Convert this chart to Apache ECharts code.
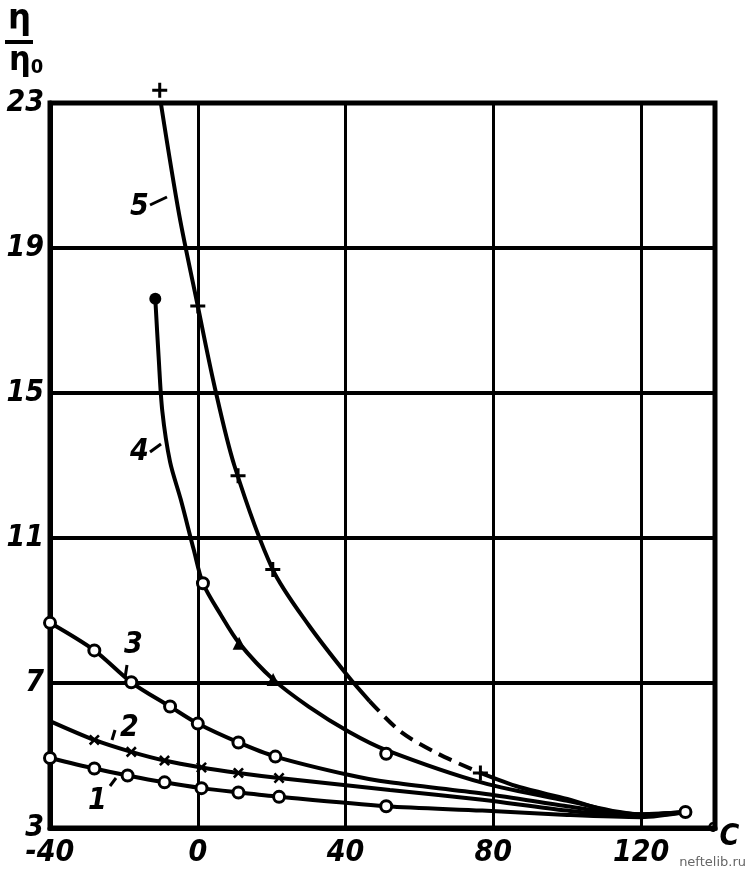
<!DOCTYPE html>
<html>
<head>
<meta charset="utf-8">
<script src="https://cdn.jsdelivr.net/npm/echarts@6/dist/echarts.min.js"></script>
<style>
html,body{margin:0;padding:0;background:#fff;}
#chart{width:748px;height:870px;}
</style>
</head>
<body>
<div id="chart"></div>
<script>
// ---- data (temperature °C, relative viscosity η/η0) ----
const xTickValues = [-40, 0, 40, 80, 120];
const yTickValues = [3, 7, 11, 15, 19, 23];

const curve1 = [[-40,4.93],[-28,4.64],[-19,4.45],[-9,4.26],[1,4.1],[11,3.98],[22,3.86],[51,3.6],[77,3.48],[100,3.36],[120,3.3],[132,3.44]];
const curve2 = [[-40,5.95],[-28,5.43],[-18,5.1],[-9,4.86],[1,4.67],[11,4.52],[22,4.38],[52,4.05],[77,3.78],[100,3.48],[120,3.33],[132,3.44]];
const curve3 = [[-40,8.66],[-28,7.9],[-18,7.02],[-7.5,6.35],[0,5.88],[11,5.36],[21,4.97],[41,4.46],[52,4.26],[77,3.95],[100,3.6],[120,3.35],[132,3.44]];
const curve4 = [[-11.5,17.6],[-10.6,16],[-9.6,14.5],[-7.5,13.1],[-4.6,12.06],[-1.1,10.68],[1.4,9.75],[6.3,8.87],[11.2,8.1],[20.4,7.1],[30,6.35],[41,5.65],[51,5.15],[77,4.25],[100,3.75],[120,3.38],[132,3.44]];
const curve5Solid = [[-10,23],[-5,19.9],[0,17.4],[4.5,15.2],[9.9,13.0],[20.3,10.13],[30,8.6],[40.8,7.17],[46.5,6.5]];
const curve5Dashed = [[46.5,6.5],[55,5.65],[65,5.05],[76.5,4.52]];
const curve5Tail = [[76.5,4.52],[87,4.13],[100,3.8],[110,3.5],[120,3.38],[132,3.44]];

const curve1Marks = [[-40,4.93],[-28,4.64],[-19,4.45],[-9,4.26],[1,4.1],[11,3.98],[22,3.86],[51,3.6],[132,3.44]];
const curve2Marks = [[-28,5.43],[-18,5.1],[-9,4.86],[1,4.67],[11,4.52],[22,4.38]];
const curve3Marks = [[-40,8.66],[-28,7.9],[-18,7.02],[-7.5,6.35],[0,5.88],[11,5.36],[21,4.97]];
const curve4StartMark = [[-11.5,17.6]];
const curve4CircleMarks = [[1.4,9.75],[51,5.05]];
const curve4TriangleMarks = [[11.2,8.1],[20.4,7.1]];
const curve5Marks = [[-10.3,23.35],[0,17.4],[10.9,12.72],[20.3,10.13],[76.5,4.52]];

const curveNames = ['1','2','3','4','5'];

// ---- styles ----
const FONT = "'Liberation Sans Narrow','DejaVu Sans Condensed','DejaVu Sans',sans-serif";
const plusPath = 'path://M4,0H6V4H10V6H6V10H4V6H0V4H4Z';

function lineSeries(data, type){
  return {type:'line', data:data, showSymbol:false, symbol:'none', smooth:0.3, clip:false,
    lineStyle:{color:'#000', width:4, type:type||'solid', opacity:1}, z:3, animation:false, silent:true};
}
function markSeries(data, symbol, size, opts){
  return Object.assign({type:'scatter', data:data, symbol:symbol, symbolSize:size, clip:false, z:5, animation:false, silent:true,
    itemStyle:{color:'#000', borderColor:'#000', borderWidth:0, opacity:1}}, opts||{});
}
const hollow = {itemStyle:{color:'#fff', borderColor:'#000', borderWidth:3, opacity:1}};

const chart = echarts.init(document.getElementById('chart'), null, {renderer:'canvas'});
chart.setOption({
  backgroundColor:'#fff',
  animation:false,
  grid:{left:50, right:33, top:103, bottom:42, show:true, borderColor:'#000', borderWidth:5, backgroundColor:'transparent'},
  xAxis:{type:'value', min:-40, max:140, interval:40,
    axisLine:{show:true, onZero:false, lineStyle:{color:'#000', width:5}},
    axisTick:{show:false},
    splitLine:{show:true, lineStyle:{color:'#000', width:3}},
    axisLabel:{color:'#000', fontSize:30, fontStyle:'italic', fontWeight:'bold', fontFamily:FONT, margin:10,
      formatter:function(v){return xTickValues.indexOf(v)>=0 ? String(v) : '';}}
  },
  yAxis:{type:'value', min:3, max:23, interval:4,
    axisLine:{show:true, onZero:false, lineStyle:{color:'#000', width:5}},
    axisTick:{show:false},
    splitLine:{show:true, lineStyle:{color:'#000', width:4}},
    axisLabel:{color:'#000', fontSize:30, fontStyle:'italic', fontWeight:'bold', fontFamily:FONT, margin:6,
      formatter:function(v){return yTickValues.indexOf(v)>=0 ? String(v) : '';}}
  },
  series:[
    lineSeries(curve1), lineSeries(curve2), lineSeries(curve3), lineSeries(curve4),
    lineSeries(curve5Solid), lineSeries(curve5Dashed,[14,8]), lineSeries(curve5Tail),
    markSeries(curve1Marks,'circle',11,hollow),
    markSeries(curve2Marks,plusPath,13,{symbolRotate:45}),
    markSeries(curve3Marks,'circle',11,hollow),
    markSeries(curve4StartMark,'circle',12),
    markSeries(curve4CircleMarks,'circle',11,hollow),
    markSeries(curve4TriangleMarks,'triangle',13),
    markSeries(curve5Marks,plusPath,15)
  ],
  graphic:[
    {type:'text', left:8, top:2, style:{text:'η', fontSize:36, fontWeight:'bold', fill:'#000', fontFamily:FONT}},
    {type:'rect', shape:{x:5, y:40, width:28, height:4}, style:{fill:'#000'}},
    {type:'text', left:9, top:44, style:{text:'η{s|0}', fontSize:34, fontWeight:'bold', fill:'#000', fontFamily:FONT,
      rich:{s:{fontSize:20, fontWeight:'bold', fill:'#000', fontFamily:FONT, padding:[14,0,0,0]}}}},
    {type:'text', left:706, top:822, style:{text:'°C', fontSize:30, fontStyle:'italic', fontWeight:'bold', fill:'#000', fontFamily:FONT}},
    {type:'text', left:130, top:192, style:{text:curveNames[4], fontSize:30, fontStyle:'italic', fontWeight:'bold', fill:'#000', fontFamily:FONT}},
    {type:'line', shape:{x1:150, y1:205, x2:167, y2:197}, style:{stroke:'#000', lineWidth:3}},
    {type:'text', left:130, top:437, style:{text:curveNames[3], fontSize:30, fontStyle:'italic', fontWeight:'bold', fill:'#000', fontFamily:FONT}},
    {type:'line', shape:{x1:150, y1:452, x2:161, y2:444}, style:{stroke:'#000', lineWidth:3}},
    {type:'text', left:124, top:630, style:{text:curveNames[2], fontSize:30, fontStyle:'italic', fontWeight:'bold', fill:'#000', fontFamily:FONT}},
    {type:'line', shape:{x1:127, y1:665, x2:125, y2:678}, style:{stroke:'#000', lineWidth:3}},
    {type:'text', left:120, top:713, style:{text:curveNames[1], fontSize:30, fontStyle:'italic', fontWeight:'bold', fill:'#000', fontFamily:FONT}},
    {type:'line', shape:{x1:115, y1:730, x2:112, y2:740}, style:{stroke:'#000', lineWidth:3}},
    {type:'text', left:88, top:786, style:{text:curveNames[0], fontSize:30, fontStyle:'italic', fontWeight:'bold', fill:'#000', fontFamily:FONT}},
    {type:'line', shape:{x1:110, y1:786, x2:116, y2:778}, style:{stroke:'#000', lineWidth:3}},
    {type:'text', right:2, bottom:1, style:{text:'neftelib.ru', fontSize:13, fill:'#666', fontFamily:'DejaVu Sans'}}
  ]
});
</script>
</body>
</html>
